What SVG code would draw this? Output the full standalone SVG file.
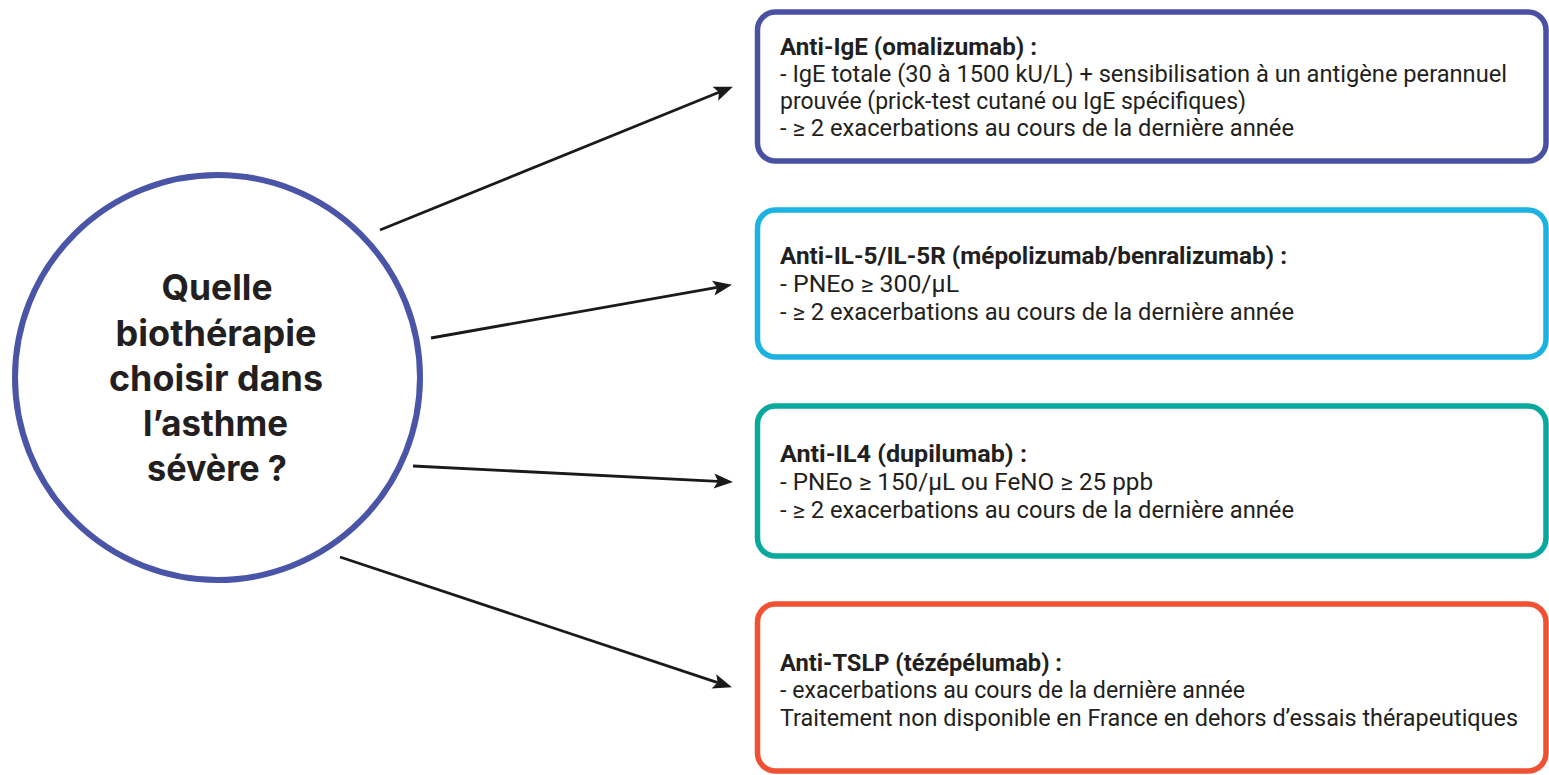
<svg xmlns="http://www.w3.org/2000/svg" width="1549" height="775" viewBox="0 0 1549 775">
<style>
.box{fill:#fff;stroke-width:5.5}
.t{font-family:Roboto,"Liberation Sans",sans-serif;font-size:23px;fill:#231f20}
.b{font-weight:700}
.q{font-family:Inter,Roboto,"Liberation Sans",sans-serif;font-size:35.5px;font-weight:700;fill:#231f20;text-anchor:middle}
.c{stroke:#1a1a1a;stroke-width:2.8;fill:none;marker-end:url(#ah)}
</style>
<defs>
<marker id="ah" markerUnits="userSpaceOnUse" markerWidth="19" markerHeight="15" refX="4" refY="7.5" orient="auto" overflow="visible">
<path d="M0,0 L19,7.5 L0,15 L4,7.5 z" fill="#1a1a1a"/>
</marker>
</defs>
<rect width="1549" height="775" fill="#fff"/>
<g id="connectors">
<line class="c" x1="380" y1="230" x2="719" y2="92.3"/>
<line class="c" x1="431" y1="338" x2="717.2" y2="287.4"/>
<line class="c" x1="413" y1="466" x2="718" y2="481.3"/>
<line class="c" x1="340" y1="557" x2="717.7" y2="682.6"/>
</g>
<g id="question">
<circle cx="217.5" cy="377.5" r="202.5" fill="#fff" stroke="#4b55a7" stroke-width="6"/>
<text class="q" x="217" y="300" textLength="111" lengthAdjust="spacingAndGlyphs">Quelle</text>
<text class="q" x="216" y="346" textLength="201" lengthAdjust="spacingAndGlyphs">biothérapie</text>
<text class="q" x="216" y="391" textLength="214" lengthAdjust="spacingAndGlyphs">choisir dans</text>
<text class="q" x="215.5" y="436" textLength="145" lengthAdjust="spacingAndGlyphs">l’asthme</text>
<text class="q" x="217" y="481" textLength="140" lengthAdjust="spacingAndGlyphs">sévère ?</text>
</g>
<g id="anti-ige">
<rect class="box" x="757.5" y="12" width="788.5" height="149" rx="18" stroke="#4a51a3"/>
<text class="t b" x="780" y="55" textLength="257" lengthAdjust="spacingAndGlyphs">Anti-IgE (omalizumab) :</text>
<text class="t" x="780" y="82" textLength="727" lengthAdjust="spacingAndGlyphs">- IgE totale (30 à 1500 kU/L) + sensibilisation à un antigène perannuel</text>
<text class="t" x="780" y="109" textLength="466" lengthAdjust="spacingAndGlyphs">prouvée (prick-test cutané ou IgE spécifiques)</text>
<text class="t" x="780" y="136" textLength="514" lengthAdjust="spacingAndGlyphs">- ≥ 2 exacerbations au cours de la dernière année</text>
</g>
<g id="anti-il5">
<rect class="box" x="757.5" y="210" width="788.5" height="147" rx="18" stroke="#1cb3e2"/>
<text class="t b" x="780" y="264" textLength="507" lengthAdjust="spacingAndGlyphs">Anti-IL-5/IL-5R (mépolizumab/benralizumab) :</text>
<text class="t" x="780" y="292" textLength="179" lengthAdjust="spacingAndGlyphs">- PNEo ≥ 300/µL</text>
<text class="t" x="780" y="320" textLength="514" lengthAdjust="spacingAndGlyphs">- ≥ 2 exacerbations au cours de la dernière année</text>
</g>
<g id="anti-il4">
<rect class="box" x="757.5" y="406" width="788.5" height="150" rx="18" stroke="#0aa99d"/>
<text class="t b" x="780" y="462" textLength="247" lengthAdjust="spacingAndGlyphs">Anti-IL4 (dupilumab) :</text>
<text class="t" x="780" y="490" textLength="373" lengthAdjust="spacingAndGlyphs">- PNEo ≥ 150/µL ou FeNO ≥ 25 ppb</text>
<text class="t" x="780" y="518" textLength="514" lengthAdjust="spacingAndGlyphs">- ≥ 2 exacerbations au cours de la dernière année</text>
</g>
<g id="anti-tslp">
<rect class="box" x="757.5" y="604" width="788.5" height="167" rx="18" stroke="#f15133"/>
<text class="t b" x="780" y="671" textLength="282" lengthAdjust="spacingAndGlyphs">Anti-TSLP (tézépélumab) :</text>
<text class="t" x="780" y="698" textLength="465" lengthAdjust="spacingAndGlyphs">- exacerbations au cours de la dernière année</text>
<text class="t" x="780" y="726" textLength="738" lengthAdjust="spacingAndGlyphs">Traitement non disponible en France en dehors d’essais thérapeutiques</text>
</g>
</svg>
